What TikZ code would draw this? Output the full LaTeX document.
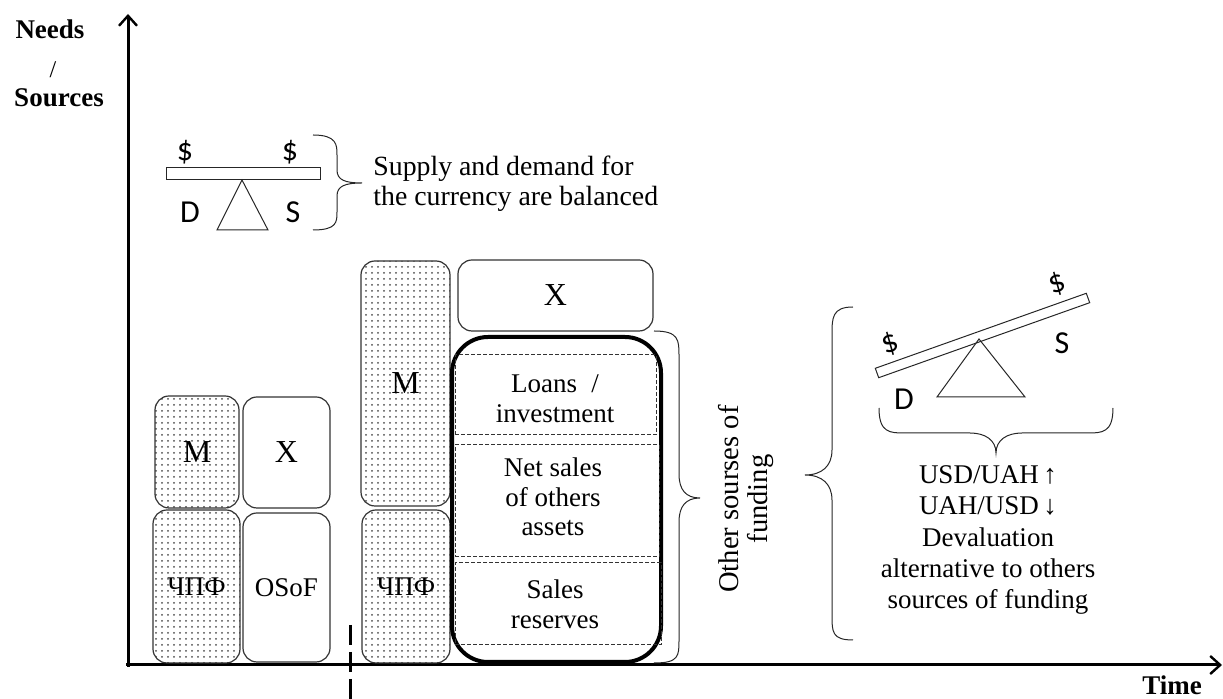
\documentclass[tikz,border=0pt]{standalone}
\usepackage{fontspec}
\setmainfont{Liberation Serif}
\newfontfamily\calib{Carlito}
\usetikzlibrary{patterns,fit,arrows.meta}

\begin{document}
\begin{tikzpicture}[x=0.5pt,y=-0.5pt,
  box/.style={draw=black!80, line width=0.6pt, rounded corners=7pt, inner sep=0pt},
  dotbox/.style={box, pattern=dots, pattern color=black!70},
  slot/.style={draw=black!80, line width=0.5pt, dash pattern=on 2pt off 1pt, inner sep=0pt},
  txt/.style={font=\fontsize{13.5}{14.8}\selectfont, align=center, inner sep=0pt},
  big/.style={font=\fontsize{16}{19}\selectfont, inner sep=0pt},
  head/.style={font=\bfseries\fontsize{13.5}{16}\selectfont, inner sep=0pt},
  sans/.style={font=\calib\fontsize{16}{19}\selectfont, inner sep=0pt},
  thin/.style={draw=black!85, line width=0.5pt},
  axis/.style={line width=1.5pt, -{Straight Barb[length=5pt,width=9pt,line width=1.2pt]}}
]
\useasboundingbox (0,0) rectangle (1223,699);

% axes
\coordinate (O) at (128,665);
\coordinate (ytop) at (128,14);
\coordinate (xend) at (1222,665);
\draw[axis] (O |- 0,667) -- (ytop);
\draw[axis] (126,665) -- (xend);
\node[head] (needs) at (50,29) {Needs};
\node[font=\fontsize{12}{14}\selectfont, inner sep=0pt] (slash) at (53,70) {/};
\node[head] (sources) at (59,98) {Sources};
\node[head] (time) at (1172,685) {Time};

% time marker
\coordinate (tickT) at (350,625);
\coordinate (tickB) at (350,699);
\draw[line width=1.5pt, dash pattern=on 10pt off 3.5pt] (tickT) -- (tickB);

% balanced seesaw
\draw[thin] (166,168) rectangle (320,180);
\draw[thin] (242,180) -- (268,230) -- (217,230) -- cycle;
\node[sans] (dl) at (185,152) {\$};
\node[sans] (dr) at (290,152) {\$};
\node[sans] (D1) at (190,212) {D};
\node[sans] (S1) at (293,212) {S};
\draw[thin] (313,135) .. controls (337,135) and (337,145) .. (337,155)
  -- (337,170) .. controls (337,180) and (345,183) .. (362,183)
  .. controls (345,183) and (337,186) .. (337,196)
  -- (337,212) .. controls (337,222) and (337,230) .. (313,230);
\node[txt, font=\fontsize{13.9}{14.8}\selectfont, align=left, anchor=west] (bal) at (373,184)
  {Supply and demand for\\the currency are balanced};

% first period
\node[dotbox, fit={(155,396) (239,508)}] (m1) {};
\node[big] at (m1) {M};
\node[box, fit={(243,397) (330,508)}] (x1) {};
\node[big] at (x1) {X};
\node[dotbox, fit={(153,510) (240,663)}] (c1) {};
\node[txt] at (c1) {ЧПФ};
\node[box, fit={(243,513) (330,662)}] (o1) {};
\node[txt] at (o1) {OSoF};

% second period
\node[dotbox, fit={(361,261) (450,506)}] (m2) {};
\node[big] at (m2) {M};
\node[dotbox, fit={(362,510) (450,663)}] (c2) {};
\node[txt] at (c2) {ЧПФ};
\node[box, fit={(458,260) (653,331)}] (x2) {};
\node[big] at (x2) {X};
\node[draw, line width=2pt, rounded corners=18pt, inner sep=0pt, fit={(452,337) (661,662)}] (oth) {};
\node[slot, fit={(455,355) (656,435)}] (loans) {};
\node[slot, fit={(455,445) (659,557)}] (net) {};
\node[slot, fit={(455,563) (661,645)}] (res) {};
\node[txt] at (555,399) {Loans \;/\\investment};
\node[txt] at (553,497) {Net sales\\of others\\assets};
\node[txt] at (555,604) {Sales\\reserves};

% brace on the funding block
\draw[thin] (654,331) .. controls (679,331) and (679,340) .. (679,356)
  -- (679,474) .. controls (679,490) and (686,498) .. (700,498)
  .. controls (686,498) and (679,506) .. (679,522)
  -- (679,640) .. controls (679,656) and (679,663) .. (654,663);
\node[txt, font=\fontsize{14.3}{14.5}\selectfont, rotate=90] (osf) at (746,499) {Other sourses of\\funding};

% devaluation side
\draw[thin] (853,307) .. controls (832,307) and (832,318) .. (832,335)
  -- (832,450) .. controls (832,466) and (822,475) .. (805,475)
  .. controls (822,475) and (832,484) .. (832,500)
  -- (832,615) .. controls (832,632) and (832,640) .. (853,640);
\draw[thin] (875.3,368.3) -- (1086.3,293.3) -- (1089.7,302.7) -- (878.7,377.7) -- cycle;
\draw[thin] (979,339) -- (1025,397) -- (937,397) -- cycle;
\node[sans, rotate=20] (dl2) at (890,344) {\$};
\node[sans, rotate=20] (dr2) at (1057,284) {\$};
\node[sans] (S2) at (1062,343) {S};
\node[sans] (D2) at (904,399) {D};
\draw[thin] (879,408) .. controls (879,433) and (890,433) .. (905,433)
  -- (970,433) .. controls (985,433) and (996,440) .. (996,453)
  .. controls (996,440) and (1007,433) .. (1022,433)
  -- (1087,433) .. controls (1102,433) and (1113,433) .. (1113,408);
\node[txt, font=\fontsize{13.5}{15.6}\selectfont] (dev) at (988,540)
  {USD/UAH\,↑\\UAH/USD\,↓\\Devaluation\\alternative to others\\sources of funding};
\end{tikzpicture}
\end{document}
